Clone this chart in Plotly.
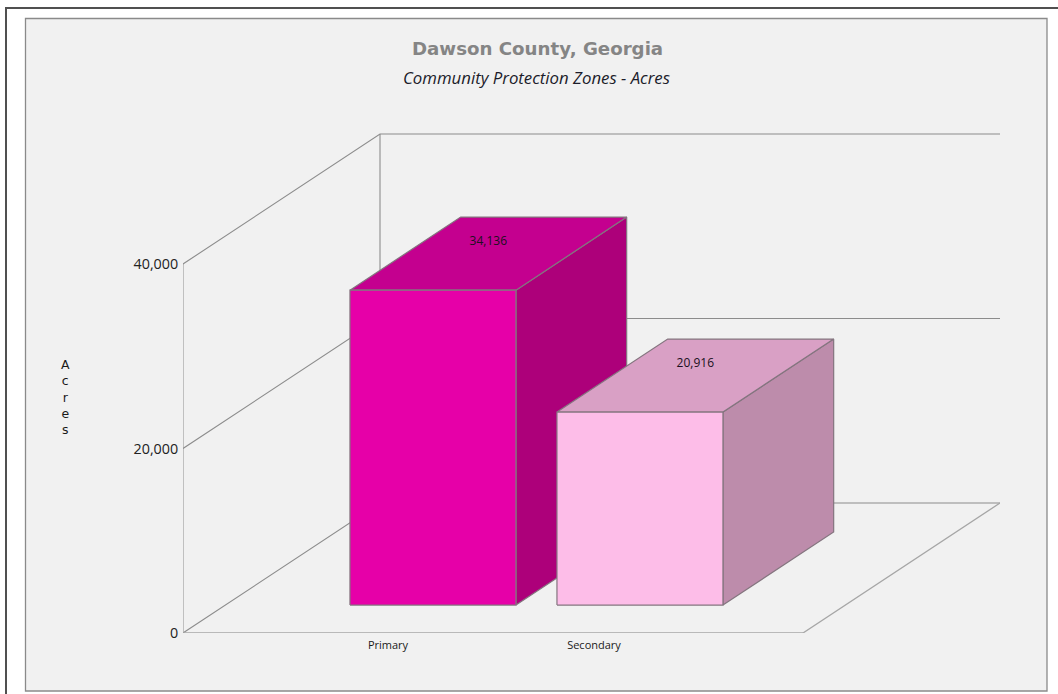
import plotly.graph_objects as go

W, H = 1058, 694
LAYOUT_H = H + 9                   # page renders the figure 9 px shorter than asked

# ---- data ----
categories = ["Primary", "Secondary"]
values = [34136, 20916]
value_labels = ["34,136", "20,916"]
y_ticks = [0, 20000, 40000]
front_colors = ["#e600a8", "#fdbde8"]
top_colors = ["#c4008f", "#d9a0c5"]
side_colors = ["#ad007a", "#bd8cab"]
axis_title_letters = ["A", "c", "r", "e", "s"]

# ---- geometry of the oblique box (axis units) ----
AX_LEFT, AX_RIGHT = 183, 1000      # x axis range
PX_Y0, PX_YTOP = 633, 133
PX_PER_UNIT = 369 / 40000
Y_MAX = (PX_Y0 - PX_YTOP) / PX_PER_UNIT
FLOOR_W = 620                      # front floor width in x units
DEPTH_X = 197
DEPTH_Y = 130 / PX_PER_UNIT
BAR_LEFT = [307.6, 514.6]
BAR_W = 166
D0, D1 = 0.215, 0.777              # bar start/end along the depth axis
TICK_POS = [388, 594]
LABEL_LIFT = 6 / PX_PER_UNIT


def proj(x, v, d=0.0):
    return x + d * DEPTH_X, v + d * DEPTH_Y


def poly(points, fill, line="#84757f"):
    xs, ys = zip(*[proj(*p) for p in points])
    return go.Scatter(x=list(xs) + [xs[0]], y=list(ys) + [ys[0]], mode="lines", fill="toself",
                      fillcolor=fill, line=dict(color=line, width=1.2), hoverinfo="skip",
                      showlegend=False, cliponaxis=False)


def seg(points, color="#9a9a9a", width=1.1):
    xs, ys = zip(*[proj(*p) for p in points])
    return go.Scatter(x=list(xs), y=list(ys), mode="lines", line=dict(color=color, width=width),
                      hoverinfo="skip", showlegend=False, cliponaxis=False)


fig = go.Figure()
L = AX_LEFT
R = L + FLOOR_W

# walls and floor
fig.add_trace(seg([(L, 0), (L, y_ticks[-1])], "#a6a6a6", 1.3))
fig.add_trace(seg([(L, 0, 1), (L, y_ticks[-1], 1)], "#8c8c8c"))
for t in y_ticks:
    fig.add_trace(seg([(L, t), (L, t, 1), (AX_RIGHT - DEPTH_X, t, 1)], "#8c8c8c"))
fig.add_trace(seg([(L, 0), (R, 0), (R, 0, 1)], "#a6a6a6", 1.3))

# bars
for i, (x0, v) in enumerate(zip(BAR_LEFT, values)):
    x1 = x0 + BAR_W
    fig.add_trace(poly([(x1, 0, D0), (x1, 0, D1), (x1, v, D1), (x1, v, D0)], side_colors[i]))
    fig.add_trace(poly([(x0, v, D0), (x1, v, D0), (x1, v, D1), (x0, v, D1)], top_colors[i]))
    fig.add_trace(poly([(x0, 0, D0), (x1, 0, D0), (x1, v, D0), (x0, v, D0)], front_colors[i]))

# value labels on the top faces
lx, ly = zip(*[proj(x0 + BAR_W / 2, v + LABEL_LIFT, (D0 + D1) / 2) for x0, v in zip(BAR_LEFT, values)])
fig.add_trace(go.Scatter(x=list(lx), y=list(ly), mode="text", text=value_labels,
                         textposition="top center", cliponaxis=False,
                         textfont=dict(family="Open Sans", size=12, color="#1a1020"),
                         hoverinfo="skip", showlegend=False))

PANEL = dict(x0=25.5 / W, x1=1047 / W, y0=1 - 691 / H, y1=1 - 18.5 / H)
shapes = [
    dict(type="rect", xref="paper", yref="paper", layer="below", fillcolor="#f1f1f1",
         line=dict(color="#8a8a8a", width=1.3), **PANEL),
    dict(type="line", xref="paper", yref="paper", x0=6 / W, x1=6 / W, y0=0, y1=1 - 7.5 / H,
         line=dict(color="#505050", width=2), layer="below"),
    dict(type="line", xref="paper", yref="paper", x0=5 / W, x1=1, y0=1 - 8 / H, y1=1 - 8 / H,
         line=dict(color="#505050", width=2), layer="below"),
]

annotations = [
    dict(text="<b>Dawson County, Georgia</b>", x=537 / W, y=1 - 48.3 / H, xref="paper", yref="paper",
         showarrow=False, xanchor="center", yanchor="middle",
         font=dict(family="DejaVu Sans", size=18.2, color="#858585")),
    dict(text="<i>Community Protection Zones - Acres</i>", x=536.5 / W, y=1 - 78 / H, xref="paper", yref="paper",
         showarrow=False, xanchor="center", yanchor="middle",
         font=dict(family="Open Sans", size=16.8, color="#1c1c2a")),
    dict(text="<br>".join(axis_title_letters), x=65.5 / W, y=1 - 397 / H, xref="paper", yref="paper",
         showarrow=False, xanchor="center", yanchor="middle", align="center",
         font=dict(family="DejaVu Sans", size=12.5, color="#1a1a1a")),
]

fig.update_layout(
    width=W, height=LAYOUT_H, autosize=False,
    margin=dict(l=0, r=0, t=0, b=0),
    paper_bgcolor="white", plot_bgcolor="rgba(0,0,0,0)",
    showlegend=False, shapes=shapes, annotations=annotations,
    xaxis=dict(domain=[AX_LEFT / W, AX_RIGHT / W], range=[AX_LEFT, AX_RIGHT], showgrid=False, zeroline=False,
               showline=False, tickmode="array", tickvals=TICK_POS, ticktext=categories, ticks="outside",
               ticklen=2, tickcolor="rgba(0,0,0,0)",
               tickfont=dict(family="Open Sans", size=11, color="#1a1a1a")),
    yaxis=dict(domain=[1 - PX_Y0 / H, 1 - PX_YTOP / H], range=[0, Y_MAX], showgrid=False, zeroline=False,
               showline=False, tickmode="array", tickvals=y_ticks, tickformat=",", ticks="outside",
               ticklen=1, tickcolor="rgba(0,0,0,0)",
               tickfont=dict(family="Open Sans", size=14.3, color="#222222")),
)

fig.write_html("out.html", config=dict(displayModeBar=False),
               post_script="var g=document.getElementById('{plot_id}');var p=g.parentElement;"
                           "p.style.position='absolute';p.style.left='0';p.style.top='0';"
                           "p.style.width='1058px';p.style.height='703px';")
